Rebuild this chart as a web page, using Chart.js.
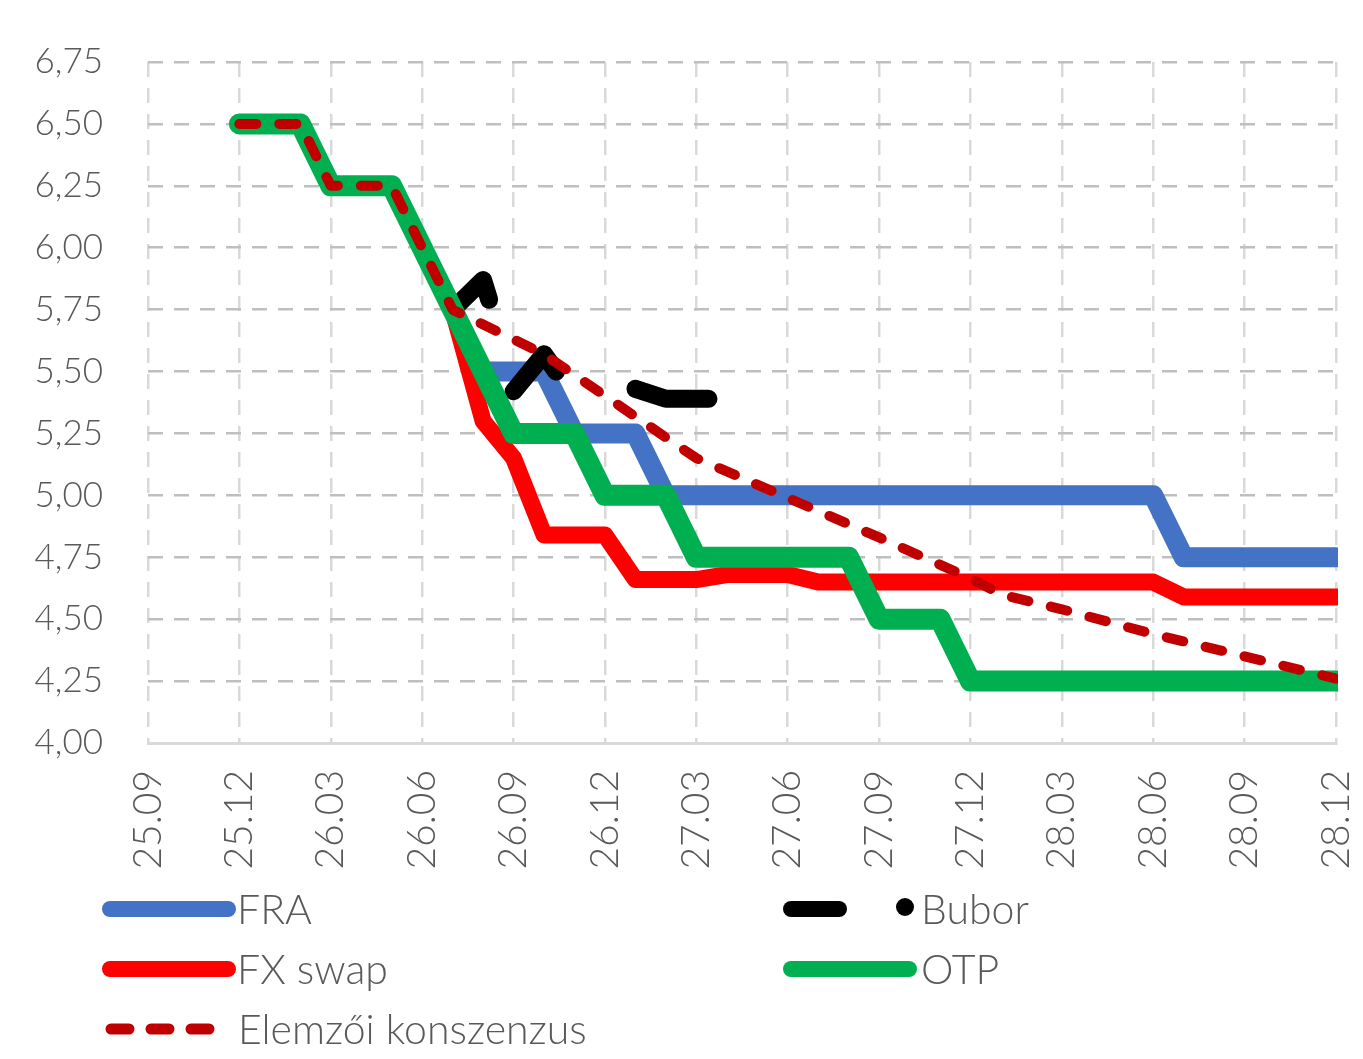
<!DOCTYPE html>
<html>
<head>
<meta charset="utf-8">
<script src="https://cdn.jsdelivr.net/npm/chart.js@4.4.1/dist/chart.umd.min.js"></script>
<style>
  html, body { margin: 0; padding: 0; background: #fff; }
  #wrap { width: 1363px; height: 1059px; }
</style>
</head>
<body>
<div id="wrap"><canvas id="myChart" width="1363" height="1059"></canvas></div>
<script>
// x = months since 2025.09 (quarter ticks every 3 months)
const tickLabels = ['25.09', '25.12', '26.03', '26.06', '26.09', '26.12', '27.03',
                    '27.06', '27.09', '27.12', '28.03', '28.06', '28.09', '28.12'];

const fraMonths = [11, 13, 14, 16, 17, 33, 34, 39];
const fraValues = [5.50, 5.50, 5.25, 5.25, 5.00, 5.00, 4.75, 4.75];

const fxMonths = [10, 11, 12, 13, 15, 16, 18, 19, 21, 22, 33, 34, 39];
const fxValues = [5.75, 5.30, 5.15, 4.84, 4.84, 4.66, 4.66, 4.68, 4.68, 4.65, 4.65, 4.59, 4.59];

const otpMonths = [3, 5, 6, 8, 12, 14, 15, 17, 18, 23, 24, 26, 27, 39];
const otpValues = [6.50, 6.50, 6.25, 6.25, 5.25, 5.25, 5.00, 5.00, 4.75, 4.75, 4.50, 4.50, 4.25, 4.25];

// Bubor: null = gap in the series
const buborMonths = [10, 11, 11.2, 11.6, 12, 13, 13.4, 14.7, 16, 17, 18.4];
const buborValues = [5.75, 5.87, 5.79, null, 5.42, 5.57, 5.50, null, 5.43, 5.39, 5.39];

const consMonths = [3, 5, 6, 8, 10, 13, 18, 21, 24, 27, 28, 30, 33, 36, 39];
const consValues = [6.50, 6.50, 6.25, 6.25, 5.75, 5.57, 5.15, 4.99, 4.83, 4.665, 4.60, 4.54, 4.44, 4.35, 4.26];

const FONT = 'Lato, "Open Sans", "Noto Sans", sans-serif';
const TEXT = '#595959';

function pts(xs, ys) {
  return xs.map((x, i) => ({ x: x, y: ys[i] }));
}

function lineSet(label, xs, ys, color, width, extra) {
  return Object.assign({
    label: label,
    data: pts(xs, ys),
    borderColor: color,
    backgroundColor: color,
    borderWidth: width,
    pointRadius: 0,
    tension: 0,
    borderCapStyle: 'round',
    borderJoinStyle: 'round',
    spanGaps: false,
    clip: 2
  }, extra || {});
}

// first dataset is painted on top
const datasets = [
  lineSet('Elemzői konszenzus', consMonths, consValues, '#C00000', 10, { borderDash: [17, 23] }),
  lineSet('OTP', otpMonths, otpValues, '#00B050', 21),
  lineSet('FX swap', fxMonths, fxValues, '#FF0000', 17),
  lineSet('Bubor', buborMonths, buborValues, '#000000', 18),
  lineSet('FRA', fraMonths, fraValues, '#4472C4', 20)
];

// legend drawn by hand (2 columns + 1 row)
const legendItems = [
  { label: 'FRA', color: '#4472C4', x: 110, tx: 237, y: 909, kind: 'solid', w: 16 },
  { label: 'Bubor', color: '#000000', x: 791, tx: 921, y: 909, kind: 'dashdot', w: 16 },
  { label: 'FX swap', color: '#FF0000', x: 110, tx: 237, y: 969, kind: 'solid', w: 16 },
  { label: 'OTP', color: '#00B050', x: 791, tx: 921, y: 969, kind: 'solid', w: 16 },
  { label: 'Elemzői konszenzus', color: '#C00000', x: 110, tx: 238, y: 1029, kind: 'dash', w: 11 }
];

const legendPlugin = {
  id: 'customLegend',
  afterDraw(chart) {
    const c = chart.ctx;
    c.save();
    c.lineCap = 'round';
    legendItems.forEach(it => {
      c.strokeStyle = it.color;
      c.fillStyle = it.color;
      c.lineWidth = it.w;
      c.beginPath();
      if (it.kind === 'solid') {
        c.setLineDash([]);
        c.moveTo(it.x, it.y);
        c.lineTo(it.x + 118, it.y);
        c.stroke();
      } else if (it.kind === 'dashdot') {
        c.setLineDash([]);
        c.moveTo(it.x, it.y);
        c.lineTo(it.x + 48, it.y);
        c.stroke();
        c.beginPath();
        c.arc(it.x + 114, it.y - 2, 9, 0, Math.PI * 2);
        c.fill();
      } else {
        c.setLineDash([18, 22]);
        c.moveTo(it.x + 1, it.y);
        c.lineTo(it.x + 110, it.y);
        c.stroke();
      }
      c.setLineDash([]);
      c.fillStyle = TEXT;
      c.font = '300 41px ' + FONT;
      c.textBaseline = 'middle';
      c.textAlign = 'left';
      c.fillText(it.label, it.tx, it.y + 2);
    });
    c.restore();
  }
};

const ctx = document.getElementById('myChart').getContext('2d');
const myChart = new Chart(ctx, {
  type: 'line',
  data: { datasets: datasets },
  options: {
    responsive: false,
    animation: false,
    layout: { padding: { left: 0, right: 27, top: 62, bottom: 180 } },
    plugins: {
      legend: { display: false },
      tooltip: { enabled: false }
    },
    scales: {
      x: {
        type: 'linear',
        min: 0,
        max: 39,
        afterBuildTicks: s => { s.ticks = tickLabels.map((l, i) => ({ value: i * 3 })); },
        afterFit: s => { s.height = 136; s.paddingLeft = 0; s.paddingRight = 0; },
        ticks: {
          autoSkip: false,
          maxRotation: 90,
          minRotation: 90,
          padding: 27,
          color: TEXT,
          font: { family: FONT, size: 39, weight: '300' },
          callback: (v) => tickLabels[Math.round(v / 3)]
        },
        grid: { color: '#D9D9D9', lineWidth: 2.5, drawTicks: false },
        border: { display: true, color: '#D9D9D9', width: 3, dash: [15, 11] }
      },
      y: {
        min: 4,
        max: 6.75,
        afterFit: s => { s.width = 148; s.paddingTop = 0; s.paddingBottom = 0; },
        ticks: {
          stepSize: 0.25,
          padding: 45,
          color: TEXT,
          font: { family: FONT, size: 35, weight: '300' },
          callback: v => v.toFixed(2).replace('.', ',')
        },
        grid: { color: '#BFBFBF', lineWidth: 2.5, drawTicks: false },
        border: { display: false, dash: [15, 11] }
      }
    }
  },
  plugins: [legendPlugin]
});
</script>
</body>
</html>
